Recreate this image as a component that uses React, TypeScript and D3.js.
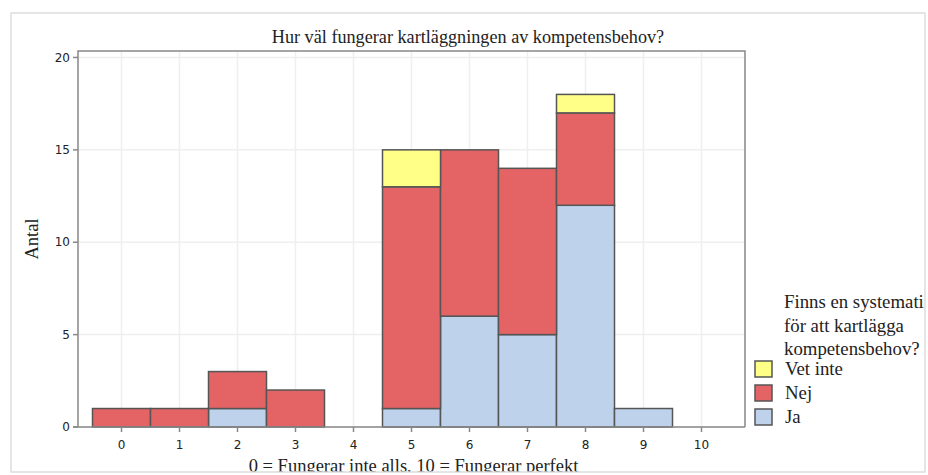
import React from "react";
import * as d3 from "d3";

const categories = [0, 1, 2, 3, 4, 5, 6, 7, 8, 9, 10];
const ja = [0, 0, 1, 0, 0, 1, 6, 5, 12, 1, 0];
const nej = [1, 1, 2, 2, 0, 12, 9, 9, 5, 0, 0];
const vetInte = [0, 0, 0, 0, 0, 2, 0, 0, 1, 0, 0];
const seriesNames = ["Ja", "Nej", "Vet inte"];
const seriesColors = ["#BED2EC", "#E46466", "#FFFF88"];
const yTicks = [0, 5, 10, 15, 20];
const title = "Hur väl fungerar kartläggningen av kompetensbehov?";
const xLabel = "0 = Fungerar inte alls, 10 = Fungerar perfekt";
const yLabel = "Antal";
const legendTitle = ["Finns en systemati", "för att kartlägga", "kompetensbehov?"];

export default function App() {
  const W = 928, H = 475;
  const left = 78, right = 745, top = 51, bottom = 427;
  const x = d3.scaleLinear().domain([-0.75, 10.75]).range([left, right]);
  const y = d3.scaleLinear().domain([0, 20.35]).range([bottom, top]);

  const table = categories.map((c, i) => ({ c, Ja: ja[i], Nej: nej[i], "Vet inte": vetInte[i] }));
  const stacked = d3.stack<any>().keys(seriesNames)(table);

  const serifStyle = { fontFamily: '"Liberation Serif", Tinos, "Times New Roman", "DejaVu Serif", serif' };
  const sansStyle = { fontFamily: '"DejaVu Sans", Verdana, sans-serif' };

  const legendItems = [
    { name: "Vet inte", color: seriesColors[2] },
    { name: "Nej", color: seriesColors[1] },
    { name: "Ja", color: seriesColors[0] },
  ];

  return (
    <svg width={W} height={H} style={{ position: "absolute", left: 0, top: 0 }}>
      <defs>
        <clipPath id="frame">
          <rect x={11} y={13} width={914} height={459} />
        </clipPath>
      </defs>
      <rect x={0} y={0} width={W} height={H} fill="#fff" />
      <g clipPath="url(#frame)">
        {categories.map((c) => (
          <line key={"gx" + c} x1={x(c)} x2={x(c)} y1={top} y2={bottom} stroke="#efefef" strokeWidth={1.5} />
        ))}
        {yTicks.map((t) => (
          <line key={"gy" + t} x1={left} x2={right} y1={y(t)} y2={y(t)} stroke="#efefef" strokeWidth={1.5} />
        ))}
        {stacked.map((s, si) =>
          s.map((d, i) =>
            d[1] - d[0] > 0 ? (
              <rect
                key={si + "-" + i}
                x={x(categories[i] - 0.5)}
                width={x(0.5) - x(-0.5)}
                y={y(d[1])}
                height={y(d[0]) - y(d[1])}
                fill={seriesColors[si]}
                stroke="#555"
                strokeWidth={1.5}
              />
            ) : null
          )
        )}
        <path d={`M${left},${bottom}V${top}H${right}V${bottom}`} fill="none" stroke="#888" strokeWidth={1.5} />
        <line x1={left - 5} x2={right} y1={bottom} y2={bottom} stroke="#888" strokeWidth={1.5} />
        {yTicks.map((t) => (
          <g key={"yt" + t}>
            <line x1={left - 5} x2={left} y1={y(t)} y2={y(t)} stroke="#888" strokeWidth={1.5} />
            <text x={left - 8} y={y(t)} dy="0.35em" textAnchor="end" style={sansStyle} fontSize={12} fill="#222">
              {t}
            </text>
          </g>
        ))}
        {categories.map((c) => (
          <g key={"xt" + c}>
            <line x1={x(c)} x2={x(c)} y1={bottom} y2={bottom + 5} stroke="#888" strokeWidth={1.5} />
            <text x={x(c)} y={bottom + 18} dy="0.35em" textAnchor="middle" style={sansStyle} fontSize={12} fill="#222">
              {c}
            </text>
          </g>
        ))}
        <text x={468} y={43} textAnchor="middle" style={serifStyle} fontSize={18.2} fill="#222">
          {title}
        </text>
        <text x={(left + right) / 2 + 2} y={472} textAnchor="middle" style={serifStyle} fontSize={18.5} fill="#222">
          {xLabel}
        </text>
        <text
          transform={`translate(38,${(top + bottom) / 2}) rotate(-90)`}
          textAnchor="middle"
          style={serifStyle}
          fontSize={18.5}
          fill="#222"
        >
          {yLabel}
        </text>
      </g>
      {legendTitle.map((l, i) => (
        <text key={"lt" + i} x={784} y={308 + i * 23.5} style={serifStyle} fontSize={18.8} fill="#222">
          {l}
        </text>
      ))}
      {legendItems.map((it, i) => (
        <g key={"li" + i}>
          <rect x={755} y={361 + i * 24} width={17} height={16} fill={it.color} stroke="#555" strokeWidth={1.5} />
          <text x={785} y={375 + i * 24} style={serifStyle} fontSize={18.8} fill="#222">
            {it.name}
          </text>
        </g>
      ))}
      <rect x={11} y={13} width={914} height={459} fill="none" stroke="#ddd" strokeWidth={1.5} />
    </svg>
  );
}
